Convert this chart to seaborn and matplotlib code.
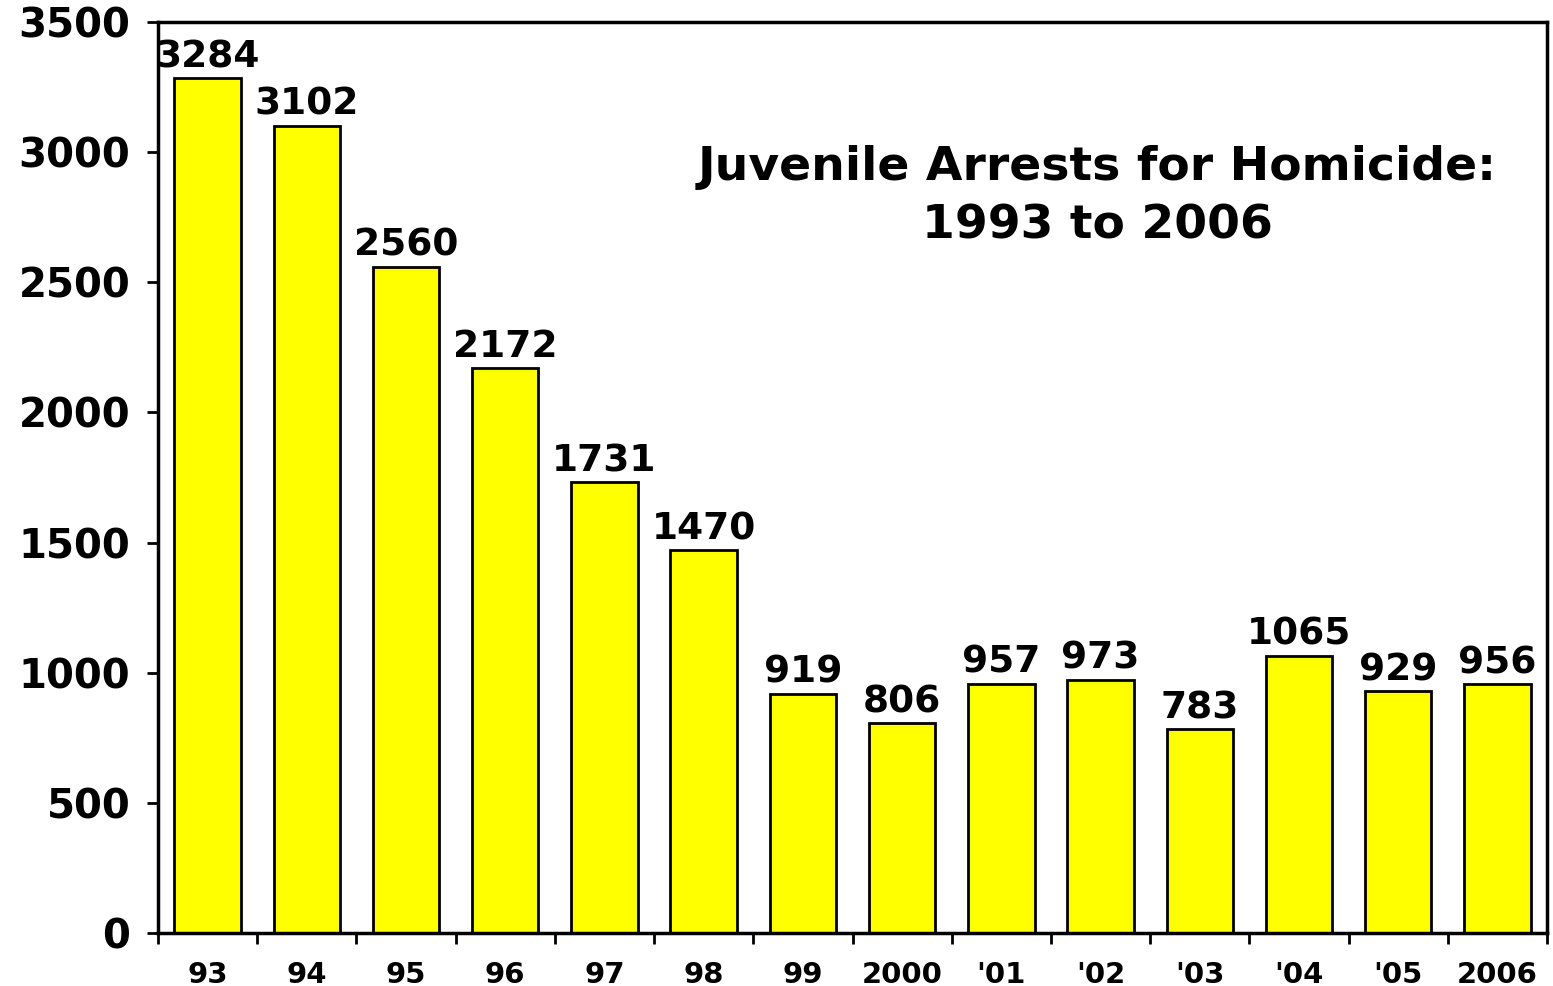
import matplotlib
matplotlib.use("Agg")
import matplotlib.pyplot as plt
import seaborn as sns
import pandas as pd

# Data
years = ["93", "94", "95", "96", "97", "98", "99", "2000", "'01", "'02", "'03", "'04", "'05", "2006"]
arrests = [3284, 3102, 2560, 2172, 1731, 1470, 919, 806, 957, 973, 783, 1065, 929, 956]
y_ticks = [0, 500, 1000, 1500, 2000, 2500, 3000, 3500]

df = pd.DataFrame({"year": years, "arrests": arrests})

sns.set_style("white")
plt.rcParams['font.family'] = ['DejaVu Sans']
plt.rcParams['font.weight'] = 'bold'
plt.rcParams['text.color'] = 'black'
plt.rcParams['xtick.color'] = 'black'
plt.rcParams['ytick.color'] = 'black'

fig = plt.figure(figsize=(15.53, 9.86), dpi=100)
ax = fig.add_axes([158 / 1553, 1 - 933 / 986, (1547 - 158) / 1553, (933 - 22) / 986])

sns.barplot(data=df, x="year", y="arrests", color="#FFFF00", edgecolor="black",
            linewidth=2, width=0.67, saturation=1, ax=ax)

# value labels
for i, v in enumerate(arrests):
    ax.text(i, v + 12, str(v), ha="center", va="bottom", fontsize=27,
            fontweight="bold", color="black")

ax.set_xlim(-0.5, len(years) - 0.5)
ax.set_ylim(0, 3500)
ax.set_yticks(y_ticks)
ax.set_yticklabels([str(t) for t in y_ticks], fontsize=29, fontweight="bold")
ax.set_xlabel("")
ax.set_ylabel("")

# x ticks at category boundaries, labels centred
ax.set_xticks([i - 0.5 for i in range(len(years) + 1)])
ax.set_xticklabels([])
ax.set_xticks(range(len(years)), minor=True)
ax.set_xticklabels(years, minor=True, fontsize=21, fontweight="bold")
ax.tick_params(axis="x", which="major", bottom=True, direction="out", length=8, width=2)
ax.tick_params(axis="x", which="minor", bottom=True, length=0, pad=20)
ax.tick_params(axis="y", left=True, direction="out", length=8, width=2, pad=12)

for s in ax.spines.values():
    s.set_visible(True)
    s.set_color("black")
    s.set_linewidth(2.5)

ax.text(0.676, 0.808, "Juvenile Arrests for Homicide:\n1993 to 2006", transform=ax.transAxes,
        ha="center", va="center", fontsize=34, fontweight="bold", linespacing=1.38,
        color="black")

fig.savefig("out.png", dpi=100)
